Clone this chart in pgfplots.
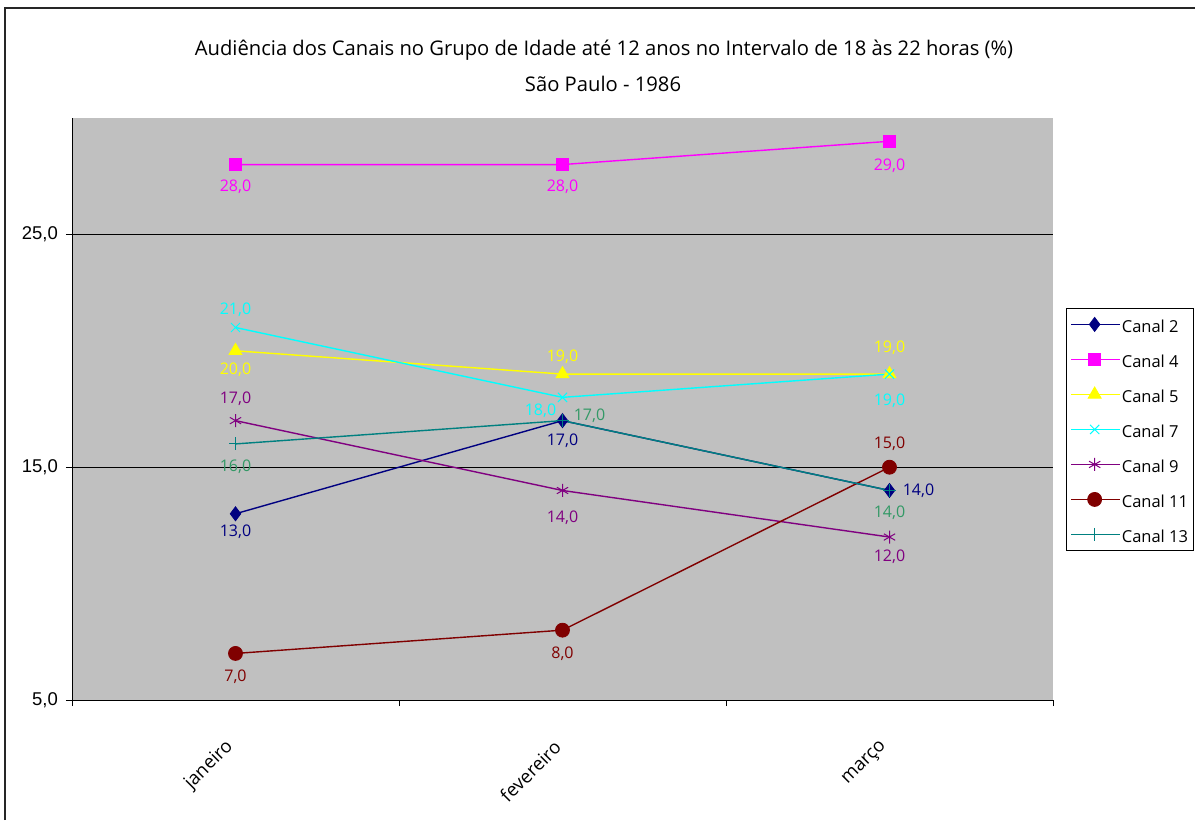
\documentclass[border=0pt]{standalone}
\usepackage{pgfplots}
\pgfplotsset{compat=1.18}
\usepackage{fontspec}
\setmainfont{Open Sans}
\newfontfamily\arialf{Liberation Sans}
\definecolor{cNavy}{HTML}{000080}
\definecolor{cMag}{HTML}{FF00FF}
\definecolor{cYel}{HTML}{FFFF00}
\definecolor{cCyan}{HTML}{00FFFF}
\definecolor{cPurp}{HTML}{800080}
\definecolor{cDRed}{HTML}{800000}
\definecolor{cTeal}{HTML}{008080}
\definecolor{cGreen}{HTML}{339966}
\definecolor{cGray}{HTML}{C0C0C0}

\pgfplotstableread{
x y dx dy
0 13 0 -18
1 17 0 -20
2 14 29 0
}\canaltwo
\pgfplotstableread{
x y dx dy
0 28 0 -22
1 28 0 -22
2 29 0 -24
}\canalfour
\pgfplotstableread{
x y dx dy
0 20 0 -19
1 19 0 17
2 19 0 26
}\canalfive
\pgfplotstableread{
x y dx dy
0 21 0 18
1 18 -22 -13
2 19 0 -27
}\canalseven
\pgfplotstableread{
x y dx dy
0 17 0 22
1 14 0 -27
2 12 0 -20
}\canalnine
\pgfplotstableread{
x y dx dy
0 7 0 -23
1 8 0 -24
2 15 0 23
}\canaleleven
\pgfplotstableread{
x y dx dy
0 16 0 -23
1 17 27 5
2 14 0 -22
}\canalthirteen

\begin{document}
\begin{tikzpicture}[x=1pt,y=1pt]
\path[use as bounding box] (0,0) rectangle (1195,820);
\draw[line width=2pt,black!85] (5,0) -- (5,812) -- (1195,812);
\node[font=\fontsize{20.2}{24}\selectfont] at (604,770) {Audiência dos Canais no Grupo de Idade até 12 anos no Intervalo de 18 às 22 horas (\%)};
\node[font=\fontsize{20.2}{24}\selectfont] at (603,736) {São Paulo - 1986};
\begin{axis}[
  at={(72pt,120pt)}, anchor=south west,
  scale only axis, width=981pt, height=582pt,
  xmin=-0.5, xmax=2.5, ymin=5, ymax=30,
  clip=false,
  axis background/.style={fill=cGray},
  axis x line*=bottom, axis y line*=left,
  axis line style={black, line width=1pt},
  tick align=outside,
  major tick length=6pt,
  tick style={black, line width=0.8pt},
  xtick={-0.5,0.5,1.5,2.5}, xticklabels={{},{},{},{}},
  extra x ticks={0,1,2},
  extra x tick labels={janeiro,fevereiro,março},
  extra x tick style={major tick length=0pt,
     xticklabel style={font=\fontsize{18.5}{20}\selectfont, xshift=-5pt, yshift=-44pt, rotate=45, anchor=east, inner sep=0pt}},
  ytick={5,15,25},
  ymajorgrids,
  grid style={black, line width=0.8pt},
  /pgf/number format/assume math mode=true,
  yticklabel={\pgfmathprintnumber[fixed,fixed zerofill,precision=1,use comma]{\tick}},
  yticklabel style={font=\arialf\fontsize{18.5}{20}\selectfont, anchor=east, inner sep=0pt, xshift=-8pt},
  every axis plot/.append style={line width=1.4pt},
  nodes near coords={\pgfmathprintnumber[fixed,fixed zerofill,precision=1,use comma,assume math mode=true]{\pgfplotspointmeta}},
  point meta=y,
  visualization depends on={\thisrow{dx} \as \dx},
  visualization depends on={\thisrow{dy} \as \dy},
  every node near coord/.append style={anchor=center, xshift=\dx pt, yshift=\dy pt, font=\fontsize{16}{18}\selectfont, inner sep=0pt},
  legend image code/.code={\path (0pt,0pt) -- (48.5pt,0pt); \draw[mark repeat=2,mark phase=2,#1] plot coordinates {(3.5pt,0pt) (23.5pt,0pt) (43.5pt,0pt)};},
  legend style={at={(axis description cs:1.0133,0.6735)}, anchor=north west,
     draw=black, line width=0.8pt, fill=white, font=\fontsize{16.5}{20}\selectfont,
     row sep=11pt, inner xsep=4pt, inner ysep=4pt,
     nodes={text height=18pt, text depth=2pt, inner ysep=2pt, inner xsep=1.5pt}},
  legend cell align=left,
]
\addplot[color=cNavy, mark=diamond*, mark size=7pt, mark options={fill=cNavy, line width=0.8pt}, every node near coord/.append style={text=cNavy}] table[x=x,y=y] {\canaltwo};
\addlegendentry{Canal 2}
\addplot[color=cMag, mark=square*, mark size=6pt, mark options={fill=cMag, line width=0.8pt}, every node near coord/.append style={text=cMag}] table[x=x,y=y] {\canalfour};
\addlegendentry{Canal 4}
\addplot[color=cYel, mark=triangle*, mark size=7.5pt, mark options={fill=cYel, line width=0.8pt}, every node near coord/.append style={text=cYel}] table[x=x,y=y] {\canalfive};
\addlegendentry{Canal 5}
\addplot[color=cCyan, mark=x, mark size=6.5pt, mark options={line width=1pt}, every node near coord/.append style={text=cCyan}] table[x=x,y=y] {\canalseven};
\addlegendentry{Canal 7}
\addplot[color=cPurp, mark=asterisk, mark size=6.5pt, mark options={line width=1pt}, every node near coord/.append style={text=cPurp}] table[x=x,y=y] {\canalnine};
\addlegendentry{Canal 9}
\addplot[color=cDRed, mark=*, mark size=7pt, mark options={fill=cDRed, line width=0.8pt}, every node near coord/.append style={text=cDRed}] table[x=x,y=y] {\canaleleven};
\addlegendentry{Canal 11}
\addplot[color=cTeal, mark=+, mark size=6.5pt, mark options={line width=1pt}, every node near coord/.append style={text=cGreen}] table[x=x,y=y] {\canalthirteen};
\addlegendentry{Canal 13}
\end{axis}
\end{tikzpicture}
\end{document}
